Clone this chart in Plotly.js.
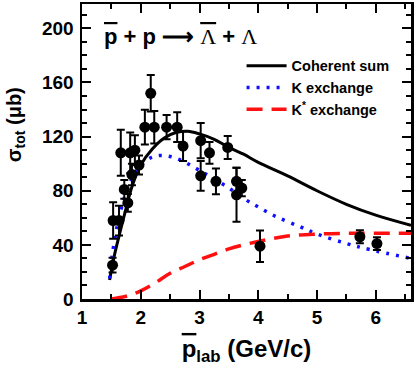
<!DOCTYPE html>
<html>
<head>
<meta charset="utf-8">
<script src="https://cdn.plot.ly/plotly-3.0.1.min.js"></script>
<style>
  body { margin: 0; padding: 0; background: #fff; }
  #plot { width: 415px; height: 366px; }
</style>
</head>
<body>
<div id="plot"></div>
<script>
var dataX   = [1.52, 1.53, 1.63, 1.66, 1.72, 1.78, 1.82, 1.85, 1.90, 1.97, 2.07, 2.17, 2.23, 2.44,
               2.62, 2.72, 3.02, 3.02, 3.17, 3.28, 3.48, 3.63, 3.63, 3.72, 4.03, 5.73, 6.02];
var dataY   = [25, 58, 58, 108, 81, 71, 108, 92, 110, 99, 127, 152, 127, 127,
               127, 113, 117, 91, 108, 87, 112, 87, 77, 82, 39, 46, 41];
var dataErr = [5.5, 13.5, 11, 17, 7, 6.6, 15, 8, 11, 7, 12.8, 13.5, 12, 9,
               11, 11, 13, 11, 8, 9.5, 8.5, 10, 20, 6, 11.7, 4.8, 4.7];

// model curves
var sumX = [1.47, 1.55, 1.65, 1.75, 1.85, 2.0, 2.2, 2.4, 2.6, 2.8, 3.0, 3.25, 3.5, 3.75, 4.0, 4.5, 5.0, 5.5, 6.0, 6.6];
var sumY = [14, 32, 50, 67, 83, 99, 111, 119, 123, 124, 122, 118, 112, 107, 101, 91, 80, 70, 62, 54.5];

var kX = [1.47, 1.52, 1.60, 1.70, 1.80, 1.90, 2.0, 2.2, 2.4, 2.6, 2.8, 3.0, 3.2, 3.5, 3.8, 4.0, 4.3, 4.7, 5.0, 5.5, 5.9, 6.6];
var kY = [15, 34, 54, 72, 84, 93, 99, 105, 106, 104, 100, 95, 90, 82, 73, 68, 61, 53.6, 48, 41, 36.5, 30];

var kstarX = [1.5, 1.75, 2.0, 2.25, 2.5, 2.75, 3.0, 3.25, 3.5, 3.75, 4.0, 4.5, 5.0, 5.5, 6.0, 6.6];
var kstarY = [0, 2, 6, 12, 19, 24, 29, 33, 37, 40, 42.5, 46.5, 48, 48.5, 48.5, 48.5];

var xTicks = [1, 2, 3, 4, 5, 6];
var yTicks = [0, 40, 80, 120, 160, 200];

var FONT = 'Liberation Sans, Arial, sans-serif';

var traces = [
  {x: sumX, y: sumY, type: 'scatter', mode: 'lines', name: 'Coherent sum',
   line: {color: '#000', width: 3, shape: 'spline'}},
  {x: kX, y: kY, type: 'scatter', mode: 'lines', name: 'K exchange',
   line: {color: '#1010ff', width: 3.5, dash: '3px,7px', shape: 'spline'}},
  {x: kstarX, y: kstarY, type: 'scatter', mode: 'lines', name: 'K<sup>*</sup> exchange',
   line: {color: '#ff1010', width: 3.5, dash: '16px,9px', shape: 'spline'}},
  {x: dataX, y: dataY, type: 'scatter', mode: 'markers', showlegend: false,
   marker: {color: '#000', size: 11},
   error_y: {type: 'data', array: dataErr, visible: true, color: '#000', thickness: 2, width: 4}}
];

var axisCommon = {
  showline: true, linecolor: '#000', linewidth: 2.5, mirror: 'ticks',
  ticks: 'inside', ticklen: 9, tickwidth: 2, tickcolor: '#000',
  showgrid: false, zeroline: false,
  tickfont: {family: FONT, size: 19, color: '#000', weight: 'bold'}
};

var layout = {
  width: 415, height: 366,
  margin: {l: 82, r: 4, t: 4, b: 67},
  paper_bgcolor: '#fff', plot_bgcolor: '#fff',
  showlegend: true,
  legend: {x: 0.485, y: 0.845, xanchor: 'left', yanchor: 'top', bgcolor: 'rgba(0,0,0,0)',
           itemwidth: 40, tracegroupgap: 0,
           font: {family: FONT, size: 14.5, color: '#000', weight: 'bold'}},
  xaxis: Object.assign({}, axisCommon, {
    range: [1, 6.6], tickvals: xTicks, ticklabelstandoff: 0,
    minor: {dtick: 0.5, ticklen: 5, tickwidth: 2, tickcolor: '#000', ticks: 'inside'},
    title: {text: '<span style="text-decoration:overline">p</span><sub>lab</sub> (GeV/c)', standoff: 36,
            font: {family: FONT, size: 24, color: '#000', weight: 'bold'}}
  }),
  yaxis: Object.assign({}, axisCommon, {
    range: [0, 218], tickvals: yTicks, ticklabelstandoff: 2,
    minor: {dtick: 10, ticklen: 5, tickwidth: 2, tickcolor: '#000', ticks: 'inside'}
  }),
  annotations: [
    {xref: 'paper', yref: 'paper', x: 0.06, y: 0.89, xanchor: 'left', yanchor: 'middle', showarrow: false,
     text: '<span style="text-decoration:overline">p</span> + p \u27F6 <span style="font-family:Liberation Serif;font-weight:normal;text-decoration:overline">\u039B</span> + <span style="font-family:Liberation Serif;font-weight:normal">\u039B</span>',
     font: {family: FONT, size: 22, color: '#000', weight: 'bold'}},
    {xref: 'paper', yref: 'paper', x: -0.2, y: 0.59, xanchor: 'center', yanchor: 'middle', showarrow: false,
     textangle: -90, text: '\u03C3<sub>tot</sub> (\u03BCb)',
     font: {family: FONT, size: 20, color: '#000', weight: 'bold'}}
  ]
};

Plotly.newPlot('plot', traces, layout, {displayModeBar: false, staticPlot: true});
</script>
</body>
</html>
